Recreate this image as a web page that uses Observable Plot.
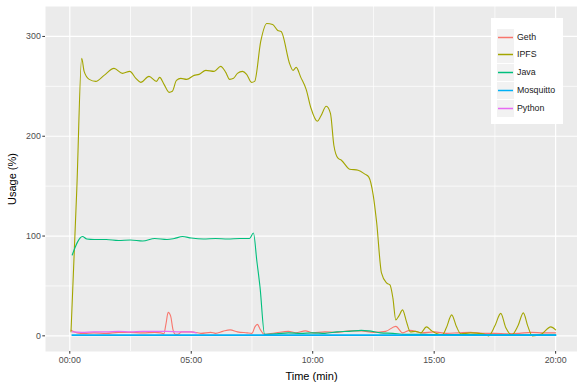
<!DOCTYPE html>
<html>
<head>
<meta charset="utf-8">
<script src="https://cdn.jsdelivr.net/npm/d3@7"></script>
<script src="https://cdn.jsdelivr.net/npm/@observablehq/plot@0.6"></script>
<style>
  html, body { margin: 0; padding: 0; background: white; }
  #wrap { position: relative; width: 577px; height: 383px; font-family: "Liberation Sans", Arial, sans-serif; }
  #wrap svg [aria-label="x-axis label"], #wrap svg [aria-label="y-axis label"] { font-size: 11px; fill: #000; }
  #legend { position: absolute; left: 491px; top: 18px; width: 72px; height: 106px; background: white; }
  .key { position: absolute; left: 6px; width: 17px; height: 17px; }
  .lab { position: absolute; left: 26px; font-size: 8.8px; color: #1a1a1a; line-height: 17px; white-space: nowrap; }
</style>
</head>
<body>
<div id="wrap"></div>
<script>
// ---- data (time in minutes, usage in %) ----
const seriesNames = ["Geth", "IPFS", "Java", "Mosquitto", "Python"];
const seriesColors = ["#F8766D", "#A3A500", "#00BF7D", "#00B0F6", "#E76BF3"];

const gethTime  = [0.05, 0.3, 0.6, 1.0, 1.5, 2.0, 2.5, 3.0, 3.5, 3.75, 3.87, 3.96, 4.05, 4.15, 4.25, 4.35, 4.45, 4.6, 5.0, 5.4, 5.8, 6.0, 6.3, 6.6, 6.9, 7.3, 7.5, 7.62, 7.72, 7.85, 8.0, 8.2, 8.5, 9.0, 9.3, 9.7, 10.0, 10.5, 11.0, 11.5, 12.0, 12.5, 13.0, 13.42, 13.7, 14.0, 14.5, 15.0, 15.5, 16.0, 16.5, 17.0, 17.5, 18.0, 18.5, 19.0, 19.5, 20.0];
const gethValue = [5.5, 3, 2.5, 3, 2.5, 3.5, 3.5, 3, 3.5, 3, 2, 12, 23.5, 20, 6, 1.5, 1.5, 4, 4, 2.5, 3.5, 2.5, 4.5, 6, 4, 3, 2.5, 9, 11.5, 6, 1.5, 2, 3, 4.5, 3, 5, 3, 4, 3.5, 5, 5, 3.5, 4.5, 9.5, 3, 5.5, 3, 4, 2.5, 3, 3.5, 2.5, 2.5, 2, 2.5, 3.5, 3, 3];

const ipfsTime  = [0.05, 0.29, 0.49, 0.59, 0.80, 1.07, 1.41, 1.82, 2.17, 2.47, 2.72, 2.92, 3.26, 3.57, 3.70, 3.88, 4.09, 4.22, 4.39, 4.57, 4.81, 5.12, 5.32, 5.60, 5.94, 6.21, 6.42, 6.58, 6.74, 6.90, 7.11, 7.28, 7.48, 7.61, 7.86, 8.11, 8.35, 8.56, 8.70, 9.06, 9.19, 9.32, 9.51, 9.73, 9.93, 10.19, 10.33, 10.56, 10.73, 10.87, 11.04, 11.18, 11.52, 11.87, 12.15, 12.31, 12.49, 12.63, 12.83, 13.04, 13.18, 13.3, 13.42, 13.55, 13.7, 13.85, 14.02, 14.23, 14.45, 14.68, 14.9, 15.13, 15.33, 15.5, 15.72, 15.92, 16.1, 16.5, 17.0, 17.24, 17.5, 17.74, 17.95, 18.2, 18.45, 18.67, 18.85, 19.04, 19.4, 19.8, 20.0];
const ipfsValue = [4, 148, 278, 265, 257, 255, 261, 268, 263, 265, 258, 254, 260, 255, 259, 252, 244, 245, 256, 258, 257, 261, 262, 266, 265, 270, 264, 257, 258, 263, 265, 262, 254, 255, 295, 313, 312, 306, 305, 272, 266, 269, 259, 247, 228, 215, 220, 230, 223, 191, 178, 176, 167, 166, 162, 159, 141, 114, 63, 53, 51, 38, 16, 20, 26, 15, 4, 4.5, 3, 9, 5, 2, 1, 8, 21, 9, 2, 3, 2, 0, 10, 22.5, 8, 1, 10, 23, 10, 0, 1.5, 9, 6];

const javaTime  = [0.1, 0.52, 0.7, 1.0, 1.5, 2.0, 2.5, 3.0, 3.5, 4.0, 4.3, 4.64, 5.0, 5.5, 6.0, 6.5, 7.0, 7.4, 7.56, 7.7, 7.83, 8.02, 8.5, 9.0, 9.5, 10.0, 10.5, 11.0, 11.5, 12.0, 12.3, 12.8, 13.3, 13.8, 14.5, 15.5, 16.5, 17.5, 18.5, 19.5, 20.0];
const javaValue = [81, 99.5, 97, 96.5, 96.5, 95.5, 96, 95, 97.5, 96.5, 97.5, 99.5, 98, 97, 97.5, 97, 97.5, 97.5, 103, 75, 49, 1.5, 2, 3, 2.5, 3, 2.5, 4, 4.5, 5.5, 5, 3, 2.5, 1.5, 1.5, 1.2, 1.2, 1, 1, 1, 1];

const mosqTime  = [0.1, 5, 10, 15, 20];
const mosqValue = [0.8, 0.8, 0.8, 0.8, 0.8];

const pyTime  = [0.1, 0.5, 1.0, 1.5, 2.0, 2.5, 3.0, 3.5, 4.0, 4.5, 5.0, 5.2];
const pyValue = [4, 3.5, 4, 4, 4.5, 4, 4.5, 4.5, 4.5, 4, 4, 3];

const xTicks = [0, 5, 10, 15, 20];
const xMinor = [2.5, 7.5, 12.5, 17.5];
const yTicks = [0, 100, 200, 300];
const yMinor = [50, 150, 250];

// ---- build table ----
const rows = [];
const add = (name, ts, vs) => ts.forEach((t, i) => rows.push({series: name, time: t, usage: vs[i]}));
add("Geth", gethTime, gethValue);
add("IPFS", ipfsTime, ipfsValue);
add("Java", javaTime, javaValue);
add("Mosquitto", mosqTime, mosqValue);
add("Python", pyTime, pyValue);

const fmt = d => String(d).padStart(2, "0") + ":00";
const widths = {Geth: 1.1, IPFS: 1.1, Java: 1.1, Mosquitto: 1.8, Python: 1.4};

const chart = Plot.plot({
  width: 577,
  height: 383,
  marginLeft: 45,
  marginRight: 0,
  marginTop: 6,
  marginBottom: 32,
  style: {fontFamily: "Liberation Sans, Arial, sans-serif", fontSize: "8.8px", color: "#4D4D4D", background: "white", overflow: "visible"},
  x: {domain: [-1, 20.9]},
  y: {domain: [-15.7, 330]},
  color: {domain: seriesNames, range: seriesColors},
  marks: [
    Plot.frame({fill: "#EBEBEB", stroke: null}),
    Plot.gridX(xMinor, {stroke: "white", strokeOpacity: 1, strokeWidth: 0.7}),
    Plot.gridY(yMinor, {stroke: "white", strokeOpacity: 1, strokeWidth: 0.7}),
    Plot.gridX(xTicks, {stroke: "white", strokeOpacity: 1, strokeWidth: 1.2}),
    Plot.gridY(yTicks, {stroke: "white", strokeOpacity: 1, strokeWidth: 1.2}),
    Plot.axisX({ticks: xTicks, tickFormat: fmt, tickSize: 2.7, tickPadding: 3, stroke: "#333333", fill: "#4D4D4D",
      label: "Time (min)", labelAnchor: "center", labelArrow: "none", labelOffset: 28}),
    Plot.axisY({ticks: yTicks, tickSize: 2.7, tickPadding: 2, stroke: "#333333", fill: "#4D4D4D",
      label: "Usage (%)", labelAnchor: "center", labelArrow: "none", labelOffset: 37}),
    ...seriesNames.map(name => Plot.line(rows.filter(r => r.series === name), {
      x: "time", y: "usage", stroke: "series", strokeWidth: widths[name], curve: "monotone-x"
    }))
  ]
});

const wrap = document.getElementById("wrap");
wrap.appendChild(chart);

// ---- legend (inside the panel, top-right) ----
const legend = document.createElement("div");
legend.id = "legend";
seriesNames.forEach((name, i) => {
  const top = 10.5 + i * 17.8;
  const key = document.createElement("div");
  key.className = "key";
  key.style.top = top + "px";
  key.innerHTML = `<svg width="17" height="17" style="display:block"><rect width="17" height="17" fill="#F2F2F2"></rect>` +
    `<line x1="1" x2="16" y1="8.5" y2="8.5" stroke="${seriesColors[i]}" stroke-width="1.5"></line></svg>`;
  const lab = document.createElement("div");
  lab.className = "lab";
  lab.style.top = top + "px";
  lab.textContent = name;
  legend.appendChild(key);
  legend.appendChild(lab);
});
wrap.appendChild(legend);
</script>
</body>
</html>
